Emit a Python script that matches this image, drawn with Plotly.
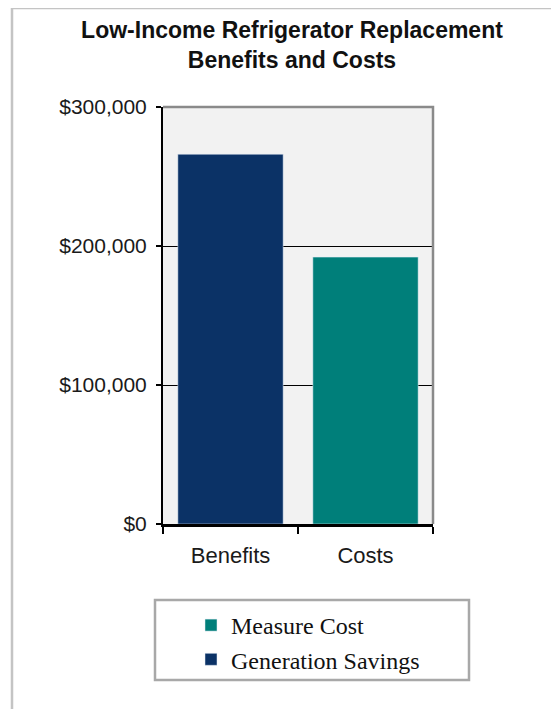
import plotly.graph_objects as go

# chart values
categories = ["Benefits", "Costs"]
generation_savings = [266000, None]
measure_cost = [None, 192000]
y_ticks = [0, 100000, 200000, 300000]
y_tick_labels = ["$0", "$100,000", "$200,000", "$300,000"]

NAVY = "#0b3266"
TEAL = "#007f7a"

# the page puts the plot 8px in from the top-left corner
OFF = 8
W, H = 559 - OFF, 709 - OFF
# plot area in page pixels
L, R, T, B = 163, 433, 107, 524


def px(x):
    return (x - L) / (R - L)


def py(y):
    return (B - y) / (B - T)


fig = go.Figure()
fig.add_trace(go.Bar(
    name="Measure Cost", x=categories, y=measure_cost,
    marker_color=TEAL, width=0.78, legendgroup="m",
))
fig.add_trace(go.Bar(
    name="Generation Savings", x=categories, y=generation_savings,
    marker_color=NAVY, width=0.78, legendgroup="g",
))

fig.update_layout(
    width=W, height=H,
    margin=dict(l=L - OFF, r=W + OFF - R, t=T - OFF, b=H + OFF - B),
    paper_bgcolor="white",
    plot_bgcolor="#f2f2f2",
    barmode="overlay",
    font=dict(family="Liberation Sans, Arial", color="#1a1a1a", size=21),
    title=dict(
        text="<b>Low-Income Refrigerator Replacement<br>Benefits and Costs</b>",
        x=px(292), xref="paper", xanchor="center",
        y=1 - 30 / H, yanchor="top",
        font=dict(size=23, color="#111111"),
    ),
    legend=dict(
        traceorder="grouped", tracegroupgap=0,
        x=px(191), xanchor="left", y=py(603), yanchor="top",
        bgcolor="rgba(0,0,0,0)",
        font=dict(family="Liberation Serif, Times New Roman", size=24, color="#111111"),
    ),
    showlegend=True,
)

fig.update_yaxes(
    range=[0, 300000], tickvals=y_ticks, ticktext=y_tick_labels,
    showline=True, linecolor="black", linewidth=2,
    ticks="outside", ticklen=5, tickcolor="black", tickwidth=2,
    showgrid=True, gridcolor="black", gridwidth=1.3,
    zeroline=False, ticklabelstandoff=5,
)
fig.update_xaxes(
    showline=True, linecolor="black", linewidth=2.5,
    ticks="outside", tickson="boundaries", ticklen=7, tickcolor="black", tickwidth=2,
    showgrid=False, ticklabelstandoff=10, tickfont=dict(size=22),
)

# gray top/right plot border
fig.add_shape(type="path", xref="paper", yref="paper",
              path="M 0 1 L 1 1 L 1 0",
              line=dict(color="#8a8a8a", width=2.5), layer="above")
# outer frame (left and top edges)
fig.add_shape(type="path", xref="paper", yref="paper",
              path=f"M {px(12)} {py(720)} L {px(12)} {py(8)} L {px(570)} {py(8)}",
              line=dict(color="#c4c4c4", width=2.5), layer="below")
# legend box
fig.add_shape(type="rect", xref="paper", yref="paper",
              x0=px(155), x1=px(469), y0=py(680), y1=py(600),
              line=dict(color="#a8a8a8", width=2.5), layer="below")

fig.write_html("out.html")
